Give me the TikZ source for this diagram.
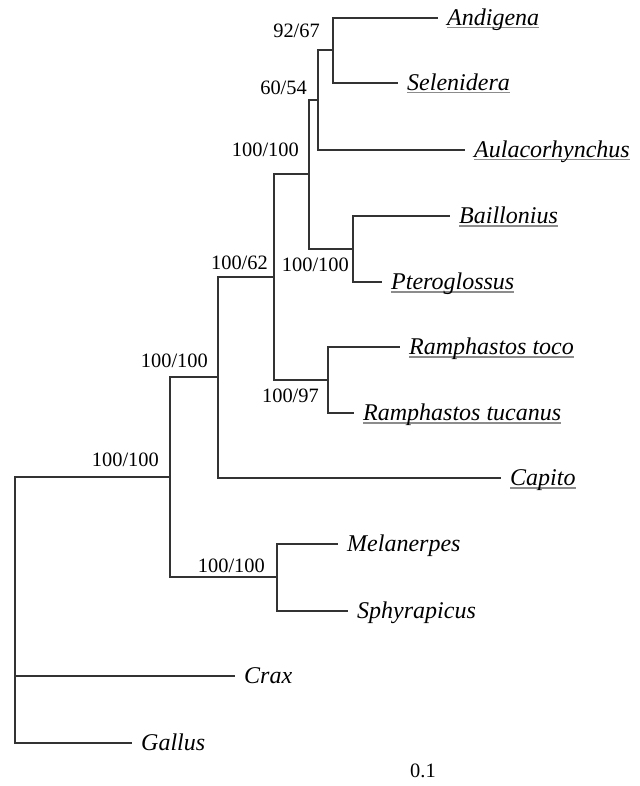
\documentclass[tikz,border=0pt]{standalone}
\usepackage{fontspec}
\setmainfont{Liberation Serif}
\usetikzlibrary{calc}
\newcommand\gul[1]{\leavevmode\setbox0=\hbox{#1}\rlap{\textcolor{black!45}{\rule[-3pt]{\wd0}{1.1pt}}}\box0}
\tikzset{
  branch/.style={line width=1.4pt, draw=black!80},
  leaf/.style={anchor=base west, inner sep=0pt, font=\fontsize{24}{28}\selectfont\itshape},
  boot/.style={anchor=base east, inner sep=0pt, font=\fontsize{20.4}{24}\selectfont},
}
\begin{document}
\begin{tikzpicture}[x=1pt,y=-1pt]
\useasboundingbox (0,0) rectangle (639,786);
% tips
\coordinate (tAnd) at (438,18);
\coordinate (tSel) at (398,83);
\coordinate (tAul) at (465,150);
\coordinate (tBai) at (450,216);
\coordinate (tPte) at (382,282);
\coordinate (tRto) at (400,347);
\coordinate (tRtu) at (354,413);
\coordinate (tCap) at (501,478);
\coordinate (tMel) at (338,544);
\coordinate (tSph) at (348,611);
\coordinate (tCra) at (235,676);
\coordinate (tGal) at (132,743);
% internal nodes
\coordinate (n1) at (333,50);
\coordinate (n2) at (318,100);
\coordinate (n4) at (353,249);
\coordinate (n3) at (309,174);
\coordinate (n6) at (328,380);
\coordinate (n5) at (274,277);
\coordinate (n7) at (218,377);
\coordinate (n9) at (277,577);
\coordinate (n8) at (170,477);
\coordinate (root) at (15,610);
% branches
\draw[branch] (n1) |- (tAnd);
\draw[branch] (n1) |- (tSel);
\draw[branch] (n2) |- (n1);
\draw[branch] (n2) |- (tAul);
\draw[branch] (n4) |- (tBai);
\draw[branch] (n4) |- (tPte);
\draw[branch] (n3) |- (n2);
\draw[branch] (n3) |- (n4);
\draw[branch] (n6) |- (tRto);
\draw[branch] (n6) |- (tRtu);
\draw[branch] (n5) |- (n3);
\draw[branch] (n5) |- (n6);
\draw[branch] (n7) |- (n5);
\draw[branch] (n7) |- (tCap);
\draw[branch] (n9) |- (tMel);
\draw[branch] (n9) |- (tSph);
\draw[branch] (n8) |- (n7);
\draw[branch] (n8) |- (n9);
\draw[branch] (root) |- (n8);
\draw[branch] (root) |- (tCra);
\draw[branch] (root) |- (tGal);
% leaf labels
\node[leaf] (lAnd) at ($(tAnd)+(9,7.5)$) {\gul{Andigena}};
\node[leaf] (lSel) at ($(tSel)+(9,7.5)$) {\gul{Selenidera}};
\node[leaf] (lAul) at ($(tAul)+(9,7.5)$) {\gul{Aulacorhynchus}};
\node[leaf] (lBai) at ($(tBai)+(9,7.5)$) {\gul{Baillonius}};
\node[leaf] (lPte) at ($(tPte)+(9,7.5)$) {\gul{Pteroglossus}};
\node[leaf] (lRto) at ($(tRto)+(9,7.5)$) {\gul{Ramphastos toco}};
\node[leaf] (lRtu) at ($(tRtu)+(9,7.5)$) {\gul{Ramphastos tucanus}};
\node[leaf] (lCap) at ($(tCap)+(9,7.5)$) {\gul{Capito}};
\node[leaf] (lMel) at ($(tMel)+(9,7.5)$) {Melanerpes};
\node[leaf] (lSph) at ($(tSph)+(9,7.5)$) {Sphyrapicus};
\node[leaf] (lCra) at ($(tCra)+(9,7.5)$) {Crax};
\node[leaf] (lGal) at ($(tGal)+(9,7.5)$) {Gallus};
% support values
\node[boot] (b1) at (320,38) {92/67};
\node[boot] (b2) at (307,95) {60/54};
\node[boot] (b3) at (299,157) {100/100};
\node[boot] (b5) at (268,269) {100/62};
\node[boot] (b4) at (349,271) {100/100};
\node[boot] (b6) at (319,402) {100/97};
\node[boot] (b7) at (208,367) {100/100};
\node[boot] (b8) at (159,466) {100/100};
\node[boot] (b9) at (265,572) {100/100};
\node[boot, anchor=base west] (scale) at (410,777) {0.1};
\end{tikzpicture}
\end{document}
